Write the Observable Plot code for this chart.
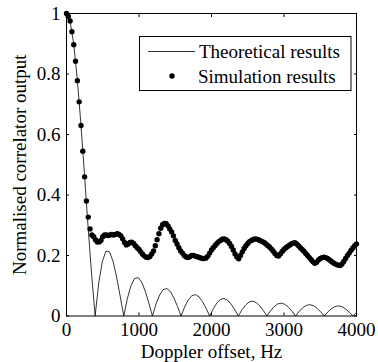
<!DOCTYPE html>
<html>
<head>
<meta charset="utf-8">
<script src="https://cdn.jsdelivr.net/npm/d3@7"></script>
<script src="https://cdn.jsdelivr.net/npm/@observablehq/plot@0.6"></script>
<style>
  html, body { margin: 0; padding: 0; background: #fff; }
  svg { display: block; }
  svg text { font-family: "Liberation Serif", "Times New Roman", serif; }
</style>
</head>
<body>
<div id="chart"></div>
<script>
const xTicks = [0, 1000, 2000, 3000, 4000];
const yTicks = [0, 0.2, 0.4, 0.6, 0.8, 1];
const xTitle = "Doppler offset, Hz";
const yTitle = "Normalised correlator output";
const legendLabels = ["Theoretical results", "Simulation results"];

// Theoretical curve
const theoFreq = [
  0, 49, 99, 148, 198, 247, 296, 346, 395,
  444, 494, 543, 593, 642, 691, 741, 790,
  839, 889, 938, 988, 1037, 1086, 1136, 1185,
  1234, 1284, 1333, 1383, 1432, 1481, 1531, 1580,
  1629, 1679, 1728, 1778, 1827, 1876, 1926, 1975,
  2024, 2074, 2123, 2173, 2222, 2271, 2321, 2370,
  2419, 2469, 2518, 2568, 2617, 2666, 2716, 2765,
  2814, 2864, 2913, 2963, 3012, 3061, 3111, 3160,
  3209, 3259, 3308, 3358, 3407, 3456, 3506, 3555,
  3604, 3654, 3703, 3753, 3802, 3851, 3901, 3950,
  4000
];
const theoValue = [
  1, 0.9745, 0.9003, 0.7842, 0.6366, 0.4705, 0.3001, 0.1392, 0,
  0.1083, 0.1801, 0.2139, 0.2122, 0.181, 0.1286, 0.065, 0,
  0.0573, 0.1, 0.1238, 0.1273, 0.112, 0.0819, 0.0424, 0,
  0.039, 0.0693, 0.0871, 0.0909, 0.0811, 0.06, 0.0314, 0,
  0.0295, 0.053, 0.0672, 0.0707, 0.0636, 0.0474, 0.025, 0,
  0.0238, 0.0429, 0.0547, 0.0579, 0.0523, 0.0391, 0.0207, 0,
  0.0199, 0.036, 0.0461, 0.049, 0.0444, 0.0333, 0.0177, 0,
  0.0171, 0.031, 0.0399, 0.0424, 0.0386, 0.029, 0.0155, 0,
  0.015, 0.0273, 0.0351, 0.0374, 0.0341, 0.0257, 0.0137, 0,
  0.0133, 0.0243, 0.0314, 0.0335, 0.0306, 0.0231, 0.0123, 0,
  0.012
];

// Simulation results
const simFreq = [
  0, 25, 50, 75, 100, 125, 150, 175, 200, 225,
  250, 275, 300, 325, 350, 375, 400, 425, 450, 475,
  500, 525, 550, 575, 600, 625, 650, 675, 700, 725,
  750, 775, 800, 825, 850, 875, 900, 925, 950, 975,
  1000, 1025, 1050, 1075, 1100, 1125, 1150, 1175, 1200, 1225,
  1250, 1275, 1300, 1325, 1350, 1375, 1400, 1425, 1450, 1475,
  1500, 1525, 1550, 1575, 1600, 1625, 1650, 1675, 1700, 1725,
  1750, 1775, 1800, 1825, 1850, 1875, 1900, 1925, 1950, 1975,
  2000, 2025, 2050, 2075, 2100, 2125, 2150, 2175, 2200, 2225,
  2250, 2275, 2300, 2325, 2350, 2375, 2400, 2425, 2450, 2475,
  2500, 2525, 2550, 2575, 2600, 2625, 2650, 2675, 2700, 2725,
  2750, 2775, 2800, 2825, 2850, 2875, 2900, 2925, 2950, 2975,
  3000, 3025, 3050, 3075, 3100, 3125, 3150, 3175, 3200, 3225,
  3250, 3275, 3300, 3325, 3350, 3375, 3400, 3425, 3450, 3475,
  3500, 3525, 3550, 3575, 3600, 3625, 3650, 3675, 3700, 3725,
  3750, 3775, 3800, 3825, 3850, 3875, 3900, 3925, 3950, 3975,
  4000
];
const simValue = [
  1.0, 0.99, 0.975, 0.94, 0.897, 0.842, 0.778, 0.708, 0.63, 0.545,
  0.46, 0.38, 0.327, 0.288, 0.268, 0.262, 0.252, 0.245, 0.245, 0.25,
  0.262, 0.268, 0.268, 0.266, 0.268, 0.27, 0.268, 0.27, 0.272, 0.27,
  0.265, 0.255, 0.243, 0.235, 0.238, 0.243, 0.244, 0.24, 0.232, 0.226,
  0.22, 0.212, 0.204, 0.198, 0.194, 0.193, 0.197, 0.205, 0.215, 0.232,
  0.252, 0.272, 0.29, 0.302, 0.306, 0.305, 0.298, 0.288, 0.278, 0.265,
  0.25, 0.238, 0.226, 0.215, 0.208, 0.2, 0.195, 0.193, 0.196, 0.2,
  0.2, 0.198, 0.196, 0.194, 0.192, 0.19, 0.19, 0.192, 0.198, 0.208,
  0.218, 0.226, 0.233, 0.24, 0.246, 0.25, 0.254, 0.255, 0.252, 0.247,
  0.24, 0.23, 0.218, 0.205, 0.195, 0.189, 0.2, 0.212, 0.223, 0.232,
  0.24, 0.246, 0.25, 0.253, 0.255, 0.254, 0.252, 0.249, 0.246, 0.243,
  0.238, 0.233, 0.228, 0.222, 0.215, 0.207, 0.2, 0.198, 0.205, 0.213,
  0.22, 0.226, 0.23, 0.234, 0.238, 0.241, 0.242, 0.238, 0.232, 0.226,
  0.22, 0.214, 0.207, 0.2, 0.193, 0.186, 0.179, 0.174, 0.178, 0.185,
  0.19, 0.193, 0.194, 0.193, 0.19, 0.186, 0.181, 0.177, 0.173, 0.17,
  0.168, 0.167, 0.172, 0.18, 0.19, 0.2, 0.208, 0.217, 0.225, 0.232,
  0.238
];

const theo = theoFreq.map((f, i) => ({f, v: theoValue[i]}));
const sim = simFreq.map((f, i) => ({f, v: simValue[i]}));

const FONT = '"Liberation Serif", "Times New Roman", serif';
const FS = 19;

const chart = Plot.plot({
  width: 378,
  height: 362,
  marginLeft: 66,
  marginRight: 22,
  marginTop: 13,
  marginBottom: 46.5,
  style: `font-family: ${FONT}; font-size: ${FS}px; color: black; background: white;`,
  x: {domain: [0, 4000]},
  y: {domain: [0, 1]},
  marks: [
    Plot.line(theo, {x: "f", y: "v", stroke: "black", strokeWidth: 0.8}),
    Plot.dot(sim, {x: "f", y: "v", r: 2.7, fill: "black", stroke: "none"}),
    Plot.frame({stroke: "black", strokeWidth: 1}),
    Plot.axisX(xTicks, {anchor: "bottom", tickSize: 0, tickPadding: 6, label: null, tickFormat: d => String(d), fontSize: FS}),
    Plot.axisX(xTicks, {anchor: "bottom", tickSize: -3, tickFormat: () => "", label: null}),
    Plot.axisX(xTicks, {anchor: "top", tickSize: -3, tickFormat: () => "", label: null}),
    Plot.axisY(yTicks, {anchor: "left", tickSize: 0, tickPadding: 6, label: null, tickFormat: d => String(d), fontSize: FS}),
    Plot.axisY(yTicks, {anchor: "left", tickSize: -3, tickFormat: () => "", label: null}),
    Plot.axisY(yTicks, {anchor: "right", tickSize: -3, tickFormat: () => "", label: null}),
    Plot.text([xTitle], {frameAnchor: "bottom", dy: 35.5, textAnchor: "middle", lineAnchor: "middle", fontSize: FS, fill: "black"}),
    Plot.text([yTitle], {frameAnchor: "left", dx: -47, textAnchor: "middle", lineAnchor: "middle", rotate: -90, fontSize: FS, fill: "black"})
  ]
});

document.getElementById("chart").appendChild(chart);

// Legend (MATLAB style box)
const svg = d3.select(chart);
const lg = svg.append("g")
  .attr("font-family", FONT)
  .attr("font-size", FS)
  .attr("text-anchor", "start");
lg.append("rect").attr("x", 139.5).attr("y", 36.5).attr("width", 211.5).attr("height", 54)
  .attr("fill", "white").attr("stroke", "black").attr("stroke-width", 1);
lg.append("line").attr("x1", 148).attr("x2", 195).attr("y1", 51.5).attr("y2", 51.5)
  .attr("stroke", "black").attr("stroke-width", 0.8);
lg.append("text").attr("x", 199).attr("y", 58).attr("fill", "black").attr("text-anchor", "start").text(legendLabels[0]);
lg.append("circle").attr("cx", 172).attr("cy", 76).attr("r", 2.7).attr("fill", "black");
lg.append("text").attr("x", 198).attr("y", 83).attr("fill", "black").attr("text-anchor", "start").text(legendLabels[1]);
</script>
</body>
</html>
